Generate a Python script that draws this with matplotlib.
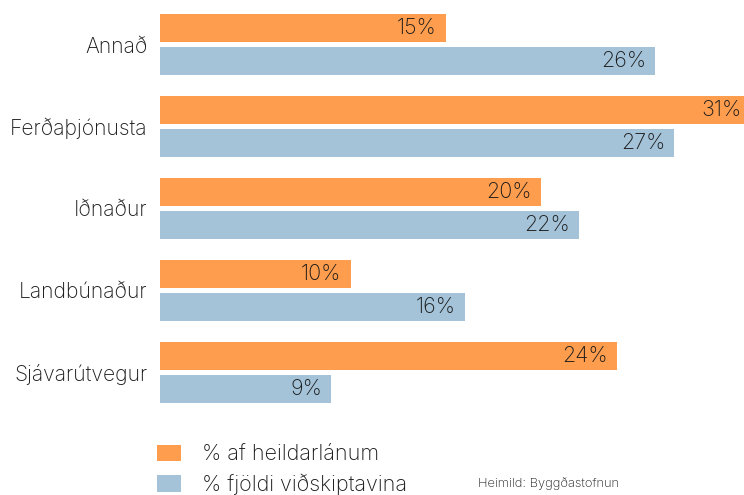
import matplotlib
matplotlib.use("Agg")
import matplotlib.pyplot as plt
import numpy as np

plt.rcParams['font.family'] = ['Inter', 'DejaVu Sans']
plt.rcParams['font.weight'] = 'light'

categories = ["Annað", "Ferðaþjónusta", "Iðnaður", "Landbúnaður", "Sjávarútvegur"]
lan = [15, 31, 20, 10, 24]        # % af heildarlánum
fjoldi = [26, 27, 22, 16, 9]      # % fjöldi viðskiptavina
series_names = ["% af heildarlánum", "% fjöldi viðskiptavina"]
source = "Heimild: Byggðastofnun"

orange = "#FE9D4D"
blue = "#A4C3D8"
txt = "#1a1a1a"

fig = plt.figure(figsize=(7.44, 4.95), dpi=100)
ax = fig.add_axes([160 / 744, 1 - 403 / 495, 584 / 744, 389 / 495])

y = np.arange(len(categories))
h = 0.341
off = 0.201
b1 = ax.barh(y - off, lan, height=h, color=orange, label=series_names[0])
b2 = ax.barh(y + off, fjoldi, height=h, color=blue, label=series_names[1])

xmax = 30.65
ax.set_xlim(0, xmax)
ax.set_ylim(4.372, -0.372)

# value labels sit just inside the bar end
for bars, vals in [(b1, lan), (b2, fjoldi)]:
    for rect, v in zip(bars, vals):
        ax.annotate(f"{v}%", (v, rect.get_y() + rect.get_height() / 2),
                    xytext=(-6.5, 0), textcoords="offset points",
                    ha="right", va="center", fontsize=15.5, color=txt,
                    annotation_clip=False)

ax.set_yticks(y)
ax.set_yticklabels(categories, fontsize=15.2, color=txt)
ax.tick_params(axis="y", length=0, pad=9)
ax.set_xticks([])
for s in ax.spines.values():
    s.set_visible(False)

fig.legend(handles=[b1, b2], loc="upper left", bbox_to_anchor=(138 / 744, 1 - 425 / 495),
           frameon=False, fontsize=15.5, handlelength=1.12, handleheight=0.79,
           handletextpad=0.95, labelspacing=0.43, labelcolor=txt)

fig.text(478 / 744, 1 - 484 / 495, source, fontsize=9.3, color=txt, va="center")

fig.savefig("out.png", dpi=100)
